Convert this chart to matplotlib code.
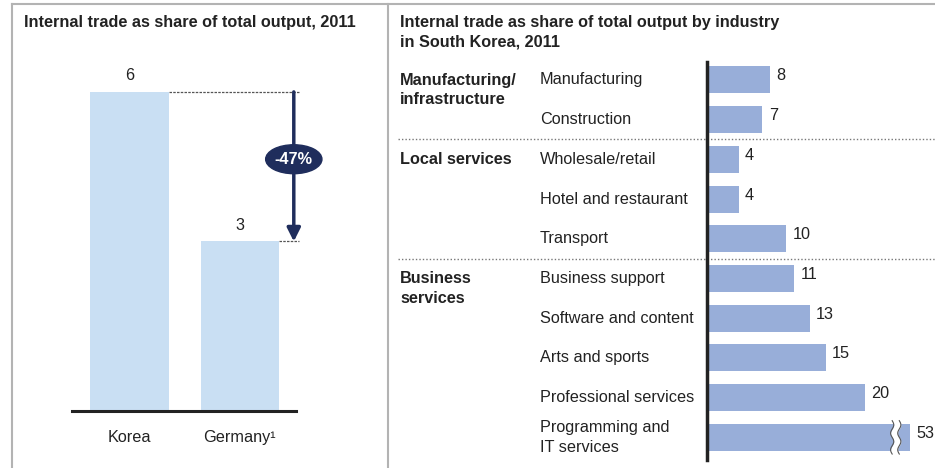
import numpy as np
import matplotlib
matplotlib.use('Agg')
import matplotlib.pyplot as plt
import matplotlib.patches as mpatches
import matplotlib.transforms as mtransforms
from matplotlib.lines import Line2D

plt.rcParams['font.family'] = ['Liberation Sans', 'DejaVu Sans']

# left panel data
countries = ['Korea', 'Germany¹']
share = [6.4, 3.4]
share_labels = ['6', '3']
change_label = '-47%'

# right panel data
groups = ['Manufacturing/\ninfrastructure', 'Local services', 'Business\nservices']
group_rows = [0, 2, 5]
industries = ['Manufacturing', 'Construction', 'Wholesale/retail', 'Hotel and restaurant',
              'Transport', 'Business support', 'Software and content', 'Arts and sports',
              'Professional services', 'Programming and\nIT services']
industry_share = [8, 7, 4, 4, 10, 11, 13, 15, 20, 53]
axis_cap = 25.6  # bars longer than this get a break mark

W, H = 935, 468
light_blue = '#c9dff3'
bar_blue = '#98aed9'
navy = '#1f2d5c'
frame_gray = '#b3b3b3'
txt = '#222222'
fs = 11.7
ls2 = 1.38

fig = plt.figure(figsize=(W / 100, H / 100), dpi=100)


def fx(px):
    return px / W


def fy(py):
    return 1 - py / H


# frame
for x0, y0, x1, y1 in [(12, 4, 935, 4), (12, 4, 12, 468), (388, 4, 388, 468)]:
    fig.add_artist(Line2D([fx(x0), fx(x1)], [fy(y0), fy(y1)], color=frame_gray, lw=1.5))

fig.text(fx(24), fy(22), 'Internal trade as share of total output, 2011',
         fontsize=fs, fontweight='bold', color=txt, va='center')
fig.text(fx(400), fy(32), 'Internal trade as share of total output by industry\nin South Korea, 2011',
         fontsize=fs, fontweight='bold', color=txt, va='center', linespacing=ls2)

# ---- left panel
ax1 = fig.add_axes([fx(72), fy(411), fx(296) - fx(72), (411 - 62) / H])
xpos = np.arange(len(countries))
ax1.bar(xpos, share, width=0.71, color=light_blue, zorder=2)
ax1.set_xlim(-0.52, 1.51)
ax1.set_ylim(0, 7)
for i, v in enumerate(share):
    ax1.text(i, v + 0.18, share_labels[i], ha='center', va='bottom', fontsize=fs, color=txt)
for s in ['top', 'right', 'left']:
    ax1.spines[s].set_visible(False)
ax1.spines['bottom'].set_linewidth(2.2)
ax1.spines['bottom'].set_color('#222222')
ax1.set_yticks([])
ax1.set_xticks(xpos)
ax1.set_xticklabels(countries, fontsize=fs, color=txt)
ax1.tick_params(axis='x', length=0, pad=14)

arrow_x = 1.49
ax1.plot([0 + 0.355, arrow_x + 0.05], [share[0], share[0]], ls=(0, (2, 1)), color='#555555', lw=0.9, clip_on=False)
ax1.plot([1 + 0.355, arrow_x + 0.05], [share[1], share[1]], ls=(0, (2, 1)), color='#555555', lw=0.9, clip_on=False)
ax1.annotate('', xy=(arrow_x, share[1]), xytext=(arrow_x, share[0]),
             arrowprops=dict(arrowstyle='-|>', color=navy, lw=2.5, mutation_scale=20,
                             shrinkA=0, shrinkB=0), annotation_clip=False)
ey = (share[0] + share[1]) / 2 + 0.15
ell = mpatches.Ellipse((arrow_x, ey), 0.51, 0.58, color=navy, clip_on=False, zorder=5)
ax1.add_patch(ell)
ax1.text(arrow_x, ey, change_label, color='white', fontsize=fs, fontweight='bold',
         ha='center', va='center', zorder=6, clip_on=False)

# ---- right panel
ax2 = fig.add_axes([fx(707), fy(460), fx(927) - fx(707), (460 - 62) / H])
rows = np.arange(len(industries))
drawn = [min(v, axis_cap) for v in industry_share]
ax2.barh(rows, drawn, height=0.68, color=bar_blue, zorder=2)
ax2.set_xlim(0, 27.8)
ax2.set_ylim(9.57, -0.45)
for s in ['top', 'right', 'bottom']:
    ax2.spines[s].set_visible(False)
ax2.spines['left'].set_linewidth(2.5)
ax2.spines['left'].set_color('#222222')
ax2.set_xticks([])
ax2.set_yticks([])
for i, v in enumerate(industry_share):
    ax2.text(drawn[i] + 0.8, i - 0.1, str(v), va='center', ha='left', fontsize=fs, color=txt)
    if v > axis_cap:
        bx = axis_cap - 2.2
        yy = np.linspace(i - 0.42, i + 0.42, 40)
        wob = 0.2 * np.sin((yy - i) * 2 * np.pi / 0.42)
        ax2.fill_betweenx(yy, bx + wob, bx + 0.9 + wob, color='white', zorder=3, lw=0)
        ax2.plot(bx + wob, yy, color='#555555', lw=0.8, zorder=4, clip_on=False)
        ax2.plot(bx + 0.9 + wob, yy, color='#555555', lw=0.8, zorder=4, clip_on=False)

tr = mtransforms.blended_transform_factory(fig.transFigure, ax2.transData)
for i, name in enumerate(industries):
    ax2.text(fx(540), i, name, transform=tr, ha='left', va='center', fontsize=fs,
             color=txt, linespacing=ls2)
for g, r in zip(groups, group_rows):
    off = 0.25 if '\n' in g else 0
    ax2.text(fx(400), r + off, g, transform=tr, ha='left', va='center', fontsize=fs,
             fontweight='bold', color=txt, linespacing=ls2)
for r in [1.5, 4.5]:
    ax2.add_artist(Line2D([fx(398), fx(935)], [r, r], transform=tr, color='#777777',
                          lw=1.0, ls=(0, (1, 1.5)), clip_on=False))

fig.savefig('out.png', dpi=100)
